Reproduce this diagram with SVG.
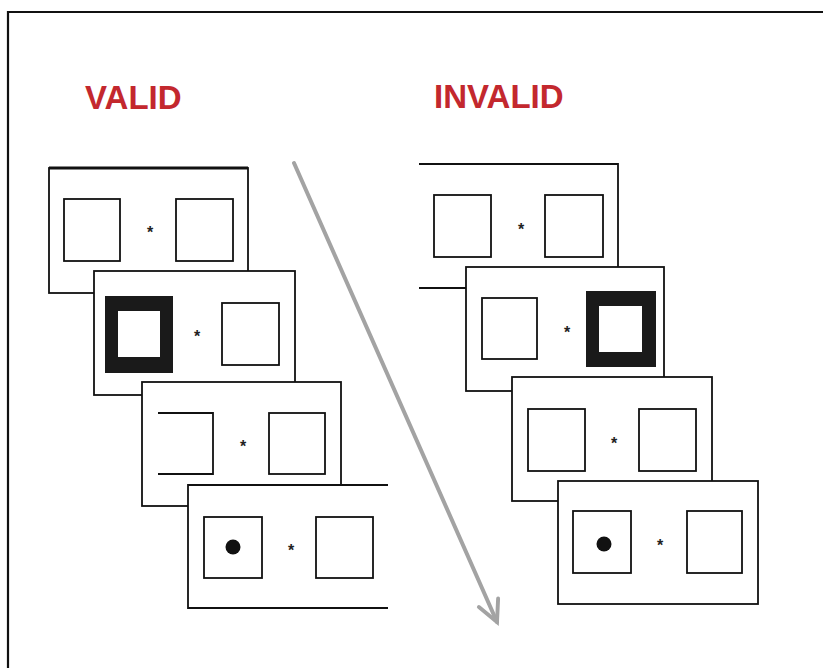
<svg xmlns="http://www.w3.org/2000/svg" width="823" height="668" viewBox="0 0 823 668">
  <style>
    .frame { fill: #fff; stroke: #111; stroke-width: 1.8; }
    .edge { fill: none; stroke: #111; stroke-width: 1.8; }
    .box { fill: #fff; stroke: #111; stroke-width: 1.8; }
    .cue { fill: #1a1a1a; }
    .dot { fill: #111; }
    .fix { font-family: "Liberation Sans", Arial, sans-serif; font-size: 16px; font-weight: bold; fill: #222; text-anchor: middle; }
    .title { font-family: "Liberation Sans", Arial, sans-serif; font-size: 33px; font-weight: bold; fill: #c3282e; }
  </style>
  <defs>
    <marker id="head" viewBox="0 0 20 20" refX="17" refY="10" markerWidth="7.5" markerHeight="7.5" markerUnits="strokeWidth" orient="auto">
      <path d="M3,3 L17,10 L3,17" fill="none" stroke="#a3a3a3" stroke-width="2.6" stroke-linecap="round"/>
    </marker>
  </defs>

  <rect x="0" y="0" width="823" height="668" fill="#fff"/>
  <path d="M8,668 V12 H823" fill="none" stroke="#111" stroke-width="2.2"/>

  <text class="title" x="85" y="109">VALID</text>
  <text class="title" x="434" y="108">INVALID</text>

  <!-- time arrow -->
  <g id="connectors">
    <line x1="294" y1="163" x2="497" y2="622" stroke="#a3a3a3" stroke-width="4" stroke-linecap="round" marker-end="url(#head)"/>
  </g>

  <!-- valid sequence -->
  <g id="valid-1">
    <rect class="frame" x="49" y="168" width="199" height="125"/>
    <line x1="49" y1="168" x2="248" y2="168" stroke="#111" stroke-width="3"/>
    <rect class="box" x="64" y="199" width="56" height="62"/>
    <rect class="box" x="176" y="199" width="57" height="62"/>
    <text class="fix" x="150" y="238">*</text>
  </g>
  <g id="valid-2">
    <rect class="frame" x="94" y="271" width="201" height="124"/>
    <rect class="cue" x="105" y="296" width="68" height="77"/>
    <rect x="118" y="311" width="42" height="46" fill="#fff"/>
    <rect class="box" x="222" y="303" width="57" height="62"/>
    <text class="fix" x="197" y="342">*</text>
  </g>
  <g id="valid-3">
    <rect class="frame" x="142" y="382" width="199" height="124"/>
    <path class="edge" d="M158,413 H213 V474 H158"/>
    <rect class="box" x="269" y="413" width="56" height="61"/>
    <text class="fix" x="243" y="452">*</text>
  </g>
  <g id="valid-4">
    <rect x="188" y="485" width="200" height="123" fill="#fff"/>
    <path class="edge" d="M388,485 H188 V608 H388"/>
    <rect class="box" x="204" y="517" width="58" height="61"/>
    <circle class="dot" cx="233" cy="547" r="7.5"/>
    <rect class="box" x="316" y="517" width="57" height="61"/>
    <text class="fix" x="291" y="556">*</text>
  </g>

  <!-- invalid sequence -->
  <g id="invalid-1">
    <rect x="419" y="164" width="199" height="124" fill="#fff"/>
    <path class="edge" d="M419,164 H618 V288 H419"/>
    <rect class="box" x="434" y="195" width="57" height="62"/>
    <rect class="box" x="545" y="195" width="58" height="62"/>
    <text class="fix" x="521" y="235">*</text>
  </g>
  <g id="invalid-2">
    <rect class="frame" x="466" y="267" width="198" height="124"/>
    <rect class="box" x="482" y="298" width="55" height="61"/>
    <rect class="cue" x="586" y="291" width="70" height="76"/>
    <rect x="599" y="306" width="43" height="46" fill="#fff"/>
    <text class="fix" x="567" y="338">*</text>
  </g>
  <g id="invalid-3">
    <rect class="frame" x="512" y="377" width="200" height="124"/>
    <rect class="box" x="528" y="409" width="57" height="62"/>
    <rect class="box" x="639" y="409" width="57" height="62"/>
    <text class="fix" x="614" y="449">*</text>
  </g>
  <g id="invalid-4">
    <rect class="frame" x="558" y="481" width="200" height="123"/>
    <rect class="box" x="573" y="511" width="58" height="62"/>
    <circle class="dot" cx="604" cy="544" r="7.5"/>
    <rect class="box" x="687" y="511" width="55" height="62"/>
    <text class="fix" x="660" y="551">*</text>
  </g>
</svg>
